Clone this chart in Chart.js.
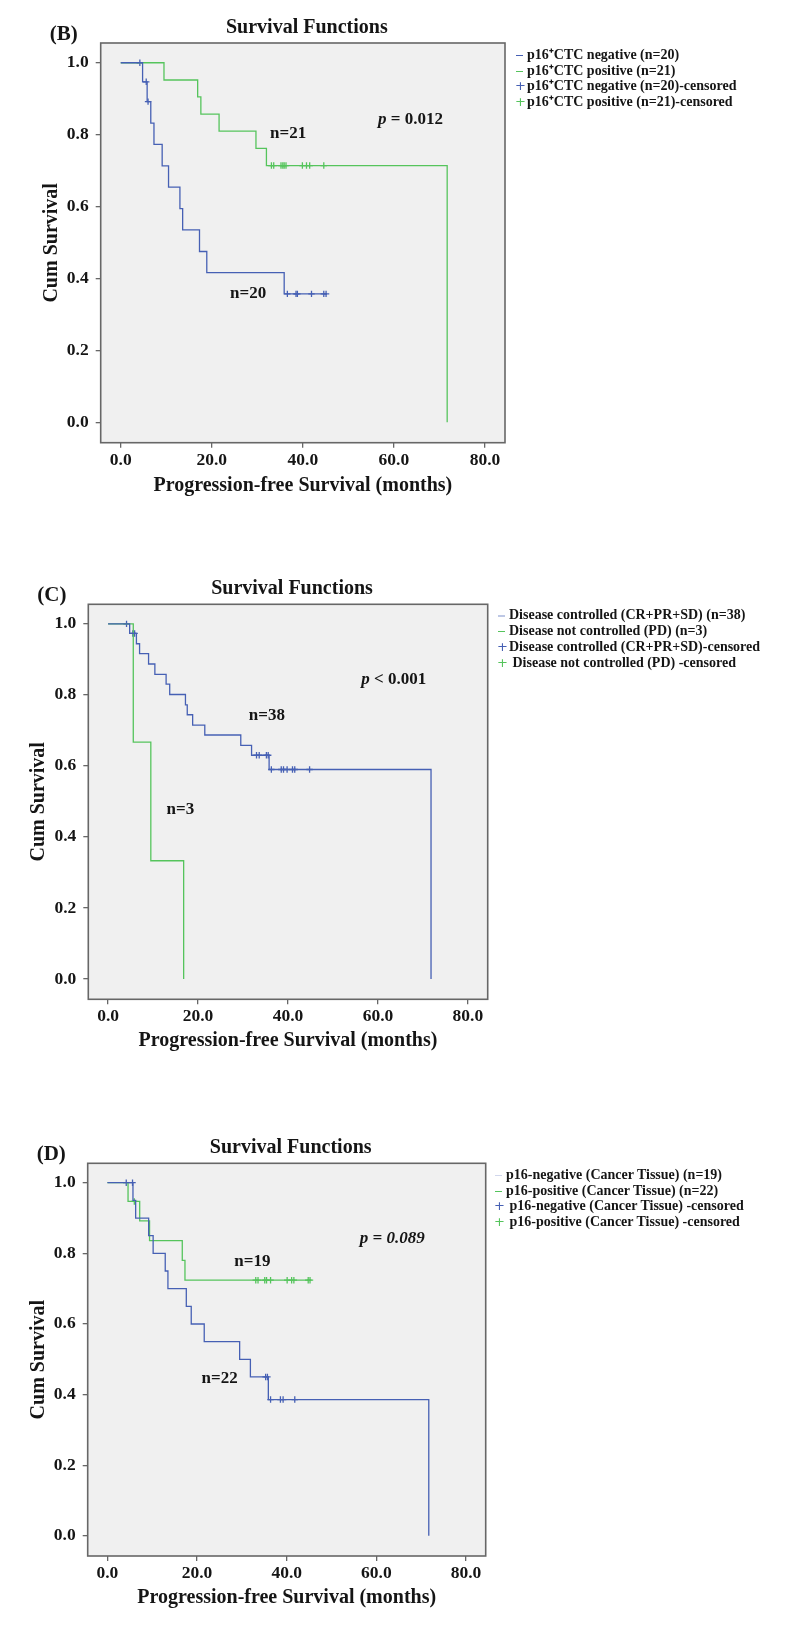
<!DOCTYPE html>
<html>
<head>
<meta charset="utf-8">
<script src="https://cdn.jsdelivr.net/npm/chart.js@4.4.1/dist/chart.umd.min.js"></script>
<style>
  html, body { margin: 0; padding: 0; background: #fff; }
  body { position: relative; width: 788px; height: 1625px; overflow: hidden; }
  canvas { position: absolute; left: 0; }
  .legend { position: absolute; font: bold 14px 'Liberation Serif', serif; color: #151515; white-space: nowrap; }
  .legend .row { position: relative; height: 15.9px; line-height: 15.9px; padding-left: 11px; }
  .legend .bar { position: absolute; left: 0; top: 8px; width: 7px; height: 1.2px; }
  .legend .cross { position: absolute; left: -1px; top: 0; font: normal 13px 'DejaVu Sans', sans-serif; }
</style>
</head>
<body>
<canvas id="chartB"></canvas>
<canvas id="chartC"></canvas>
<canvas id="chartD"></canvas>
<div class="legend" id="legendB"></div>
<div class="legend" id="legendC"></div>
<div class="legend" id="legendD"></div>
<script>
// axis ticks (shared by all three panels)
const xTicks = [0, 20, 40, 60, 80];
const xTickLabels = ['0.0', '20.0', '40.0', '60.0', '80.0'];
const yTicks = [0, 0.2, 0.4, 0.6, 0.8, 1.0];
const yTickLabels = ['0.0', '0.2', '0.4', '0.6', '0.8', '1.0'];

// (B) p16+CTC — step points (time, survival) and censored times
const bNegTimes = [0, 4.8, 5.8, 6.6, 7.3, 9.1, 10.5, 13.0, 13.6, 17.3, 18.9, 35.9, 45.3];
const bNegSurv = [1.0, 0.947, 0.892, 0.832, 0.773, 0.713, 0.654, 0.594, 0.535, 0.475, 0.416, 0.357, 0.357];
const bNegCensor = [4.2, 5.6, 6.0, 36.6, 38.5, 38.8, 41.9, 44.6, 45.1];
const bPosTimes = [0, 9.5, 16.9, 17.6, 21.6, 29.7, 32.0, 71.7];
const bPosSurv = [1.0, 0.952, 0.905, 0.857, 0.810, 0.762, 0.714, 0.0];
const bPosCensor = [33.1, 33.6, 35.2, 35.6, 35.9, 36.3, 39.9, 40.8, 41.5, 44.6];
const bLegendLabels = ['p16⁺CTC negative (n=20)', 'p16⁺CTC positive (n=21)',
  'p16⁺CTC negative (n=20)-censored', 'p16⁺CTC positive (n=21)-censored'];

// (C) disease control
const cCtrlTimes = [0, 4.8, 6.3, 7.0, 9.0, 10.4, 12.9, 13.7, 17.2, 17.6, 18.8, 21.5, 29.5, 31.9, 35.8, 71.8];
const cCtrlSurv = [1.0, 0.973, 0.944, 0.916, 0.887, 0.858, 0.830, 0.801, 0.772, 0.744, 0.715, 0.687, 0.658, 0.630, 0.590, 0.0];
const cCtrlCensor = [4.1, 5.5, 5.9, 33.0, 33.6, 35.2, 35.6, 36.3, 38.5, 39.0, 39.8, 41.0, 41.5, 44.8];
const cNotTimes = [0, 5.6, 9.5, 16.8];
const cNotSurv = [1.0, 0.667, 0.333, 0.0];
const cNotCensor = [];
const cLegendLabels = ['Disease controlled (CR+PR+SD) (n=38)', 'Disease not controlled (PD) (n=3)',
  'Disease controlled (CR+PR+SD)-censored', '\u00a0Disease not controlled (PD) -censored'];

// (D) p16 in cancer tissue
const dNegTimes = [0, 5.7, 6.3, 9.2, 10.2, 12.9, 13.5, 17.6, 18.7, 21.6, 29.5, 31.9, 35.9, 71.7];
const dNegSurv = [1.0, 0.95, 0.90, 0.85, 0.80, 0.75, 0.70, 0.65, 0.60, 0.55, 0.50, 0.45, 0.386, 0.0];
const dNegCensor = [4.2, 5.6, 35.3, 35.7, 36.4, 38.6, 39.2, 41.8];
const dPosTimes = [0, 4.6, 7.2, 9.4, 16.7, 17.3, 45.5];
const dPosSurv = [1.0, 0.947, 0.892, 0.836, 0.780, 0.724, 0.724];
const dPosCensor = [6.0, 33.1, 33.6, 35.1, 35.5, 36.4, 40.1, 41.1, 41.6, 44.8, 45.2];
const dLegendLabels = ['p16-negative (Cancer Tissue) (n=19)', 'p16-positive (Cancer Tissue) (n=22)',
  '\u00a0p16-negative (Cancer Tissue) -censored', '\u00a0p16-positive (Cancer Tissue) -censored'];

const BLUE = '#4660b4';
const GREEN = '#55c45c';
const SERIF = "'Liberation Serif', 'Times New Roman', serif";

// survival value at a censored time
function survAt(times, surv, t) {
  let s = surv[0];
  for (let i = 0; i < times.length; i++) if (times[i] <= t) s = surv[i];
  return s;
}

function curve(times, surv, color) {
  return {
    data: times.map((t, i) => ({ x: t, y: surv[i] })),
    showLine: true, stepped: 'before', borderColor: color, borderWidth: 1.3,
    pointRadius: 0, fill: false
  };
}
function censored(cens, times, surv, color) {
  return {
    data: cens.map(t => ({ x: t, y: survAt(times, surv, t) })),
    showLine: false, pointStyle: 'cross', pointRadius: 3.2, borderColor: color,
    borderWidth: 1.3, backgroundColor: color
  };
}

// grey plot background and frame
const plotFrame = {
  id: 'plotFrame',
  beforeDraw(chart) {
    const { ctx, chartArea: a } = chart;
    ctx.save();
    ctx.fillStyle = '#f0f0f0';
    ctx.fillRect(a.left, a.top, a.width, a.height);
    ctx.restore();
  },
  afterDraw(chart) {
    const { ctx, chartArea: a } = chart;
    ctx.save();
    ctx.strokeStyle = '#676767';
    ctx.lineWidth = 1.6;
    ctx.strokeRect(a.left, a.top, a.width, a.height);
    ctx.restore();
  }
};

// panel letter, title and in-plot notes
const panelText = {
  id: 'panelText',
  afterDraw(chart, args, opts) {
    const { ctx, chartArea: a, scales } = chart;
    ctx.save();
    ctx.fillStyle = '#151515';
    ctx.textBaseline = 'alphabetic';
    ctx.font = 'bold 21px ' + SERIF;
    ctx.textAlign = 'left';
    ctx.fillText(opts.label, a.left - 51, a.top - 3.5);
    ctx.font = 'bold 20px ' + SERIF;
    ctx.textAlign = 'center';
    ctx.fillText('Survival Functions', (a.left + a.right) / 2 + 4, a.top - 10);
    ctx.textAlign = 'left';
    opts.notes.forEach(n => {
      let x = scales.x.getPixelForValue(n.x);
      const y = scales.y.getPixelForValue(n.y);
      n.parts.forEach(p => {
        ctx.font = (p.italic ? 'italic ' : '') + 'bold 17px ' + SERIF;
        ctx.fillText(p.t, x, y);
        x += ctx.measureText(p.t).width;
      });
    });
    ctx.restore();
  }
};

function makePanel(id, p) {
  const canvas = document.getElementById(id);
  canvas.width = 788; canvas.height = p.h;
  canvas.style.top = p.top + 'px';
  canvas.style.width = '788px'; canvas.style.height = p.h + 'px';
  const tickFont = { family: SERIF, size: 17.5, weight: 'bold' };
  const titleFont = { family: SERIF, size: 20, weight: 'bold' };
  new Chart(canvas, {
    type: 'scatter',
    data: { datasets: p.datasets },
    options: {
      responsive: false,
      animation: false,
      devicePixelRatio: 1,
      layout: {
        padding: {
          top: p.area.top - p.top,
          left: p.area.left - 61,
          right: 788 - p.area.right,
          bottom: p.top + p.h - p.area.bottom - p.hx
        }
      },
      plugins: {
        legend: { display: false },
        tooltip: { enabled: false },
        panelText: { label: p.label, notes: p.notes }
      },
      scales: {
        x: {
          type: 'linear', min: -4.4, max: 84.4,
          afterBuildTicks: s => { s.ticks = xTicks.map(v => ({ value: v })); },
          afterFit: s => { s.height = p.hx; },
          ticks: { callback: (v, i) => xTickLabels[i], font: tickFont, color: '#151515', padding: 2, maxRotation: 0 },
          grid: { drawOnChartArea: false, tickLength: 5, color: '#676767', lineWidth: 1.3 },
          border: { display: false },
          title: { display: true, text: 'Progression-free Survival (months)', font: titleFont, color: '#151515', padding: 0 }
        },
        y: {
          type: 'linear', min: -0.057, max: 1.055,
          afterBuildTicks: s => { s.ticks = yTicks.map(v => ({ value: v })); },
          afterFit: s => { s.width = 61; },
          ticks: { callback: (v, i) => yTickLabels[i], font: tickFont, color: '#151515', padding: 7 },
          grid: { drawOnChartArea: false, tickLength: 5, color: '#676767', lineWidth: 1.3 },
          border: { display: false },
          title: { display: true, text: 'Cum Survival', font: titleFont, color: '#151515', padding: 0 }
        }
      }
    },
    plugins: [plotFrame, panelText]
  });
}

function makeLegend(id, left, top, labels, markers) {
  const el = document.getElementById(id);
  el.style.left = left + 'px';
  el.style.top = top + 'px';
  labels.forEach((lab, i) => {
    const row = document.createElement('div');
    row.className = 'row';
    const m = markers[i];
    const mk = document.createElement('span');
    if (m.type === 'line') { mk.className = 'bar'; mk.style.background = m.color; }
    else { mk.className = 'cross'; mk.style.color = m.color; mk.textContent = '+'; }
    row.appendChild(mk);
    row.appendChild(document.createTextNode(lab));
    el.appendChild(row);
  });
}

makePanel('chartB', {
  top: 0, h: 530, hx: 54.8, label: '(B)',
  area: { left: 100.7, right: 505, top: 43, bottom: 442.7 },
  datasets: [
    curve(bNegTimes, bNegSurv, BLUE), curve(bPosTimes, bPosSurv, GREEN),
    censored(bNegCensor, bNegTimes, bNegSurv, BLUE), censored(bPosCensor, bPosTimes, bPosSurv, GREEN)
  ],
  notes: [
    { x: 32.8, y: 0.792, parts: [{ t: 'n=21' }] },
    { x: 24.0, y: 0.346, parts: [{ t: 'n=20' }] },
    { x: 56.5, y: 0.831, parts: [{ t: 'p', italic: true }, { t: ' = 0.012' }] }
  ]
});

makePanel('chartC', {
  top: 540, h: 540, hx: 53.4, label: '(C)',
  area: { left: 88.3, right: 487.7, top: 604.3, bottom: 999.3 },
  datasets: [
    curve(cCtrlTimes, cCtrlSurv, BLUE), curve(cNotTimes, cNotSurv, GREEN),
    censored(cCtrlCensor, cCtrlTimes, cCtrlSurv, BLUE), censored(cNotCensor, cNotTimes, cNotSurv, GREEN)
  ],
  notes: [
    { x: 31.3, y: 0.728, parts: [{ t: 'n=38' }] },
    { x: 13.0, y: 0.466, parts: [{ t: 'n=3' }] },
    { x: 56.3, y: 0.831, parts: [{ t: 'p', italic: true }, { t: ' < 0.001' }] }
  ]
});

makePanel('chartD', {
  top: 1090, h: 535, hx: 54.3, label: '(D)',
  area: { left: 87.7, right: 485.7, top: 1163.3, bottom: 1556 },
  datasets: [
    curve(dNegTimes, dNegSurv, BLUE), curve(dPosTimes, dPosSurv, GREEN),
    censored(dNegCensor, dNegTimes, dNegSurv, BLUE), censored(dPosCensor, dPosTimes, dPosSurv, GREEN)
  ],
  notes: [
    { x: 28.3, y: 0.765, parts: [{ t: 'n=19' }] },
    { x: 21.0, y: 0.434, parts: [{ t: 'n=22' }] },
    { x: 56.3, y: 0.830, parts: [{ t: 'p = 0.089', italic: true }] }
  ]
});

makeLegend('legendB', 516, 46.7, bLegendLabels, [
  { type: 'line', color: BLUE }, { type: 'line', color: GREEN },
  { type: 'cross', color: BLUE }, { type: 'cross', color: GREEN }
]);
makeLegend('legendC', 498, 607.4, cLegendLabels, [
  { type: 'line', color: 'rgba(70,96,180,0.35)' }, { type: 'line', color: GREEN },
  { type: 'cross', color: BLUE }, { type: 'cross', color: GREEN }
]);
makeLegend('legendD', 495, 1166.7, dLegendLabels, [
  { type: 'line', color: 'rgba(70,96,180,0.25)' }, { type: 'line', color: GREEN },
  { type: 'cross', color: BLUE }, { type: 'cross', color: GREEN }
]);
</script>
</body>
</html>
